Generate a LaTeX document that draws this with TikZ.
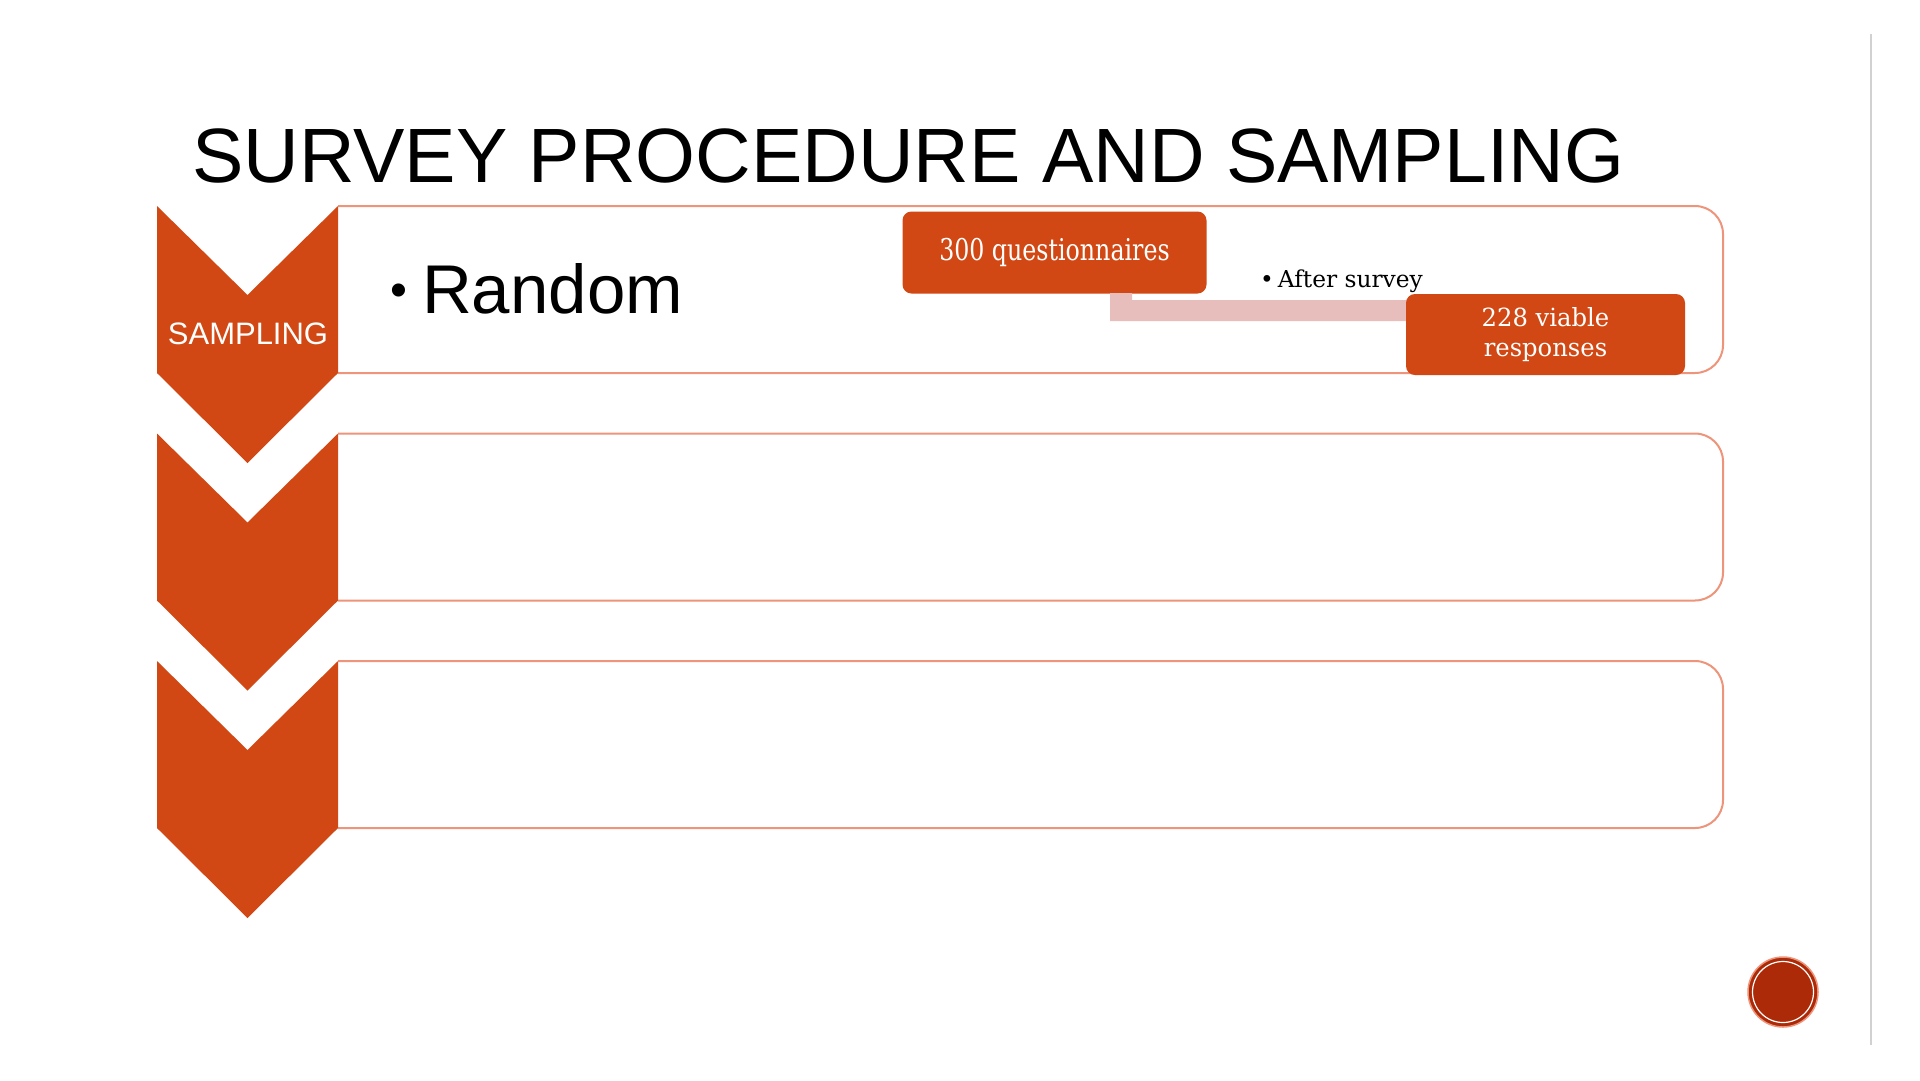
\documentclass[tikz,border=0pt]{standalone}
\usepackage{fontspec}
\setmainfont{Liberation Sans}
\newfontfamily\slab{DejaVu Serif}
\definecolor{rust}{RGB}{209,72,20}
\definecolor{salmon}{RGB}{238,148,122}
\definecolor{pinkbar}{RGB}{232,190,188}
\definecolor{dotred}{RGB}{172,42,8}
\newcommand{\cond}[2]{\scalebox{#1}[1]{#2}}
\tikzset{
  chev/.style={fill=rust, draw=none},
  rowbox/.style={draw=salmon, line width=2pt, rounded corners=28pt},
  obox/.style={fill=rust, rounded corners=9pt, text=white, inner sep=0pt, align=center},
}
\begin{document}
\begin{tikzpicture}[x=1pt,y=-1pt]
\useasboundingbox (0,0) rectangle (1920,1080);
\fill[white] (0,0) rectangle (1920,1080);
% right divider
\draw[black!18, line width=2pt] (1871,34) -- (1871,1045);
% title
\node[anchor=base west, inner sep=0pt, font=\fontsize{77}{80}\selectfont] (title) at (192,182) {SURVEY PROCEDURE AND SAMPLING};
% row boxes
\foreach \t in {206,433.5,661}{
  \draw[rowbox] (338,\t) -- (1723,\t) -- (1723,\t+167) -- (338,\t+167);
}
% step boxes
\node[obox, minimum width=304pt, minimum height=82pt, font=\slab\fontsize{30}{32}\selectfont] (q) at (1054.5,252.5) {\cond{0.79}{300 questionnaires}};
% connector between the two steps
\coordinate (c0) at (1110,293);
\coordinate (c1) at (1406,300);
\fill[pinkbar] (c0) -- ++(22,0) -- ++(0,7) -- (c1) -- ++(4,0) -- ++(0,21) -- (c0 |- 0,321) -- cycle;
\node[obox, minimum width=279pt, minimum height=81pt, font=\slab\fontsize{25}{30}\selectfont] (r) at (1545.5,334.5) {\cond{0.97}{228 viable}\\\cond{0.97}{responses}};
\node[anchor=base west, inner sep=0pt, font=\slab\fontsize{23.3}{28}\selectfont] (after) at (1260,287) {\textbullet\,After survey};
% chevrons
\foreach \t in {206,433.5,661}{
  \fill[chev] (157,\t) -- (247.5,\t+89) -- (338,\t) -- (338,\t+167) -- (247.5,\t+257) -- (157,\t+167) -- cycle;
}
\node[text=white, inner sep=0pt, font=\fontsize{31}{33}\selectfont] (samp) at (248,334) {SAMPLING};
\node[anchor=base west, inner sep=0pt, font=\fontsize{69}{72}\selectfont] (rand) at (390,313) {\raisebox{7pt}{\scalebox{0.7}{\textbullet}}\hspace{15pt}Random};
% page dot
\node[circle, fill=dotred, draw=salmon, line width=1.5pt, minimum size=70pt, inner sep=0pt] (dot) at (1783,992) {};
\draw[white, line width=1.2pt] (dot.center) circle (30.5);
\end{tikzpicture}
\end{document}
